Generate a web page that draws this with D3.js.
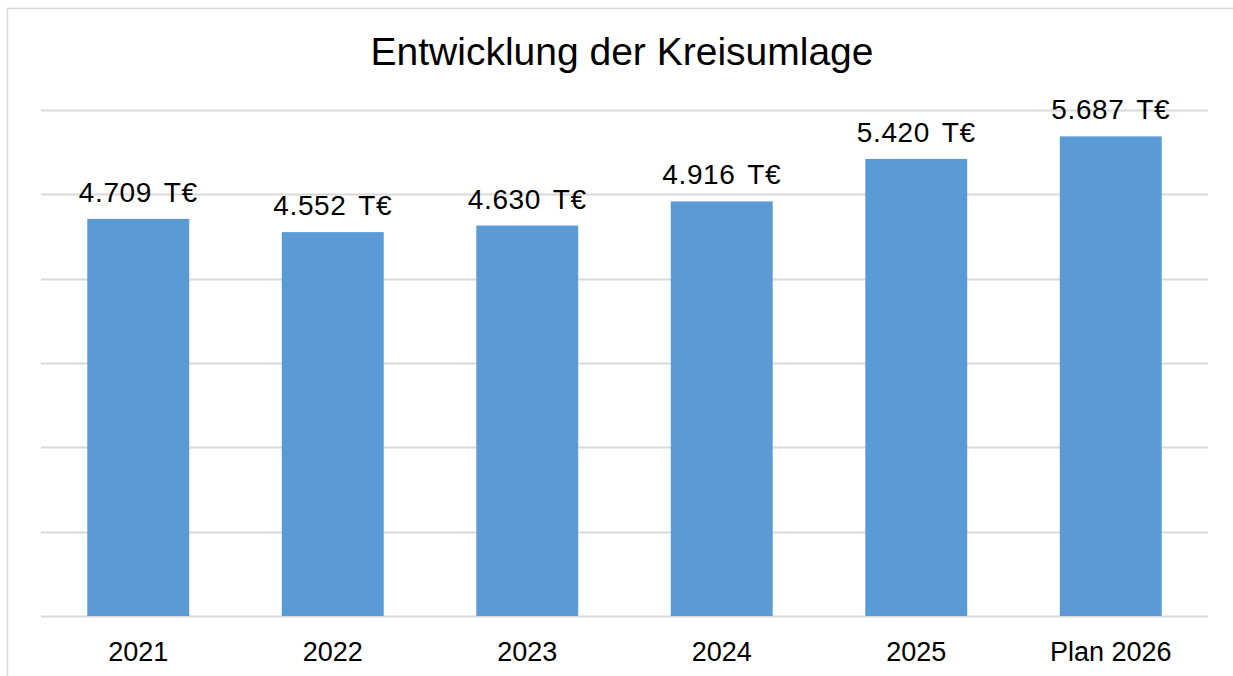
<!DOCTYPE html>
<html>
<head>
<meta charset="utf-8">
<script src="https://cdn.jsdelivr.net/npm/d3@7"></script>
<style>
  html, body { margin: 0; padding: 0; background: #fff; overflow: hidden; }
  svg { display: block; }
  text { font-family: "Liberation Sans", Arial, sans-serif; fill: #000; }
</style>
</head>
<body>
<div id="chart"></div>
<script>
(function(){
	var title = "Entwicklung der Kreisumlage";
	var years = ["2021", "2022", "2023", "2024", "2025", "Plan 2026"];
	var amounts = [4709, 4552, 4630, 4916, 5420, 5687];
	var gridTicks = [0, 1000, 2000, 3000, 4000, 5000, 6000];

	var W = 1233, H = 676;
	var margin = {top: 110, right: 25, bottom: 60, left: 41};
	var plotW = 1208 - margin.left,
	    plotH = 616 - margin.top;

	var numFmt = d3.formatLocale({decimal: ",", thousands: ".", grouping: [3]}).format(",d");

	var svg = d3.select("#chart").append("svg")
		.attr("width", W)
		.attr("height", H);

	// chart border: only top and left edges are inside the picture
	svg.append("path")
		.attr("d", "M7.5," + H + "V8.5H" + W)
		.attr("fill", "none")
		.attr("stroke", "#d9d9d9")
		.attr("stroke-width", 1.5);

	svg.append("text")
		.attr("x", 622)
		.attr("y", 65)
		.attr("text-anchor", "middle")
		.style("font-size", "39px")
		.text(title);

	var g = svg.append("g")
		.attr("transform", "translate(" + margin.left + "," + margin.top + ")");

	var x = d3.scaleBand()
		.domain(years)
		.range([0, plotW])
		.paddingInner(0.476)
		.paddingOuter(0.238);

	var y = d3.scaleLinear()
		.domain([0, 6000])
		.range([plotH, 0]);

	g.append("g")
		.attr("class", "grid")
		.selectAll("line")
		.data(gridTicks)
		.enter()
		.append("line")
		.attr("x1", 0).attr("x2", plotW)
		.attr("y1", function(d){ return Math.round(y(d)) + 0.5; })
		.attr("y2", function(d){ return Math.round(y(d)) + 0.5; })
		.attr("stroke", "#d9d9d9")
		.attr("stroke-width", 2);

	g.append("g")
		.selectAll("rect")
		.data(amounts)
		.enter()
		.append("rect")
		.attr("x", function(d, i){ return x(years[i]); })
		.attr("y", function(d){ return y(d); })
		.attr("width", x.bandwidth())
		.attr("height", function(d){ return plotH - y(d); })
		.attr("fill", "#5b9bd5");

	g.append("g")
		.selectAll("text")
		.data(amounts)
		.enter()
		.append("text")
		.attr("x", function(d, i){ return x(years[i]) + x.bandwidth() / 2; })
		.attr("y", function(d){ return y(d) - 17; })
		.attr("text-anchor", "middle")
		.style("font-size", "28px")
		.style("word-spacing", "4px")
		.style("letter-spacing", "0.6px")
		.text(function(d){ return numFmt(d) + " T€"; });

	g.append("g")
		.selectAll("text")
		.data(years)
		.enter()
		.append("text")
		.attr("x", function(d){ return x(d) + x.bandwidth() / 2; })
		.attr("y", plotH + 45)
		.attr("text-anchor", "middle")
		.style("font-size", "27px")
		.text(function(d){ return d; });
})();
</script>
</body>
</html>
